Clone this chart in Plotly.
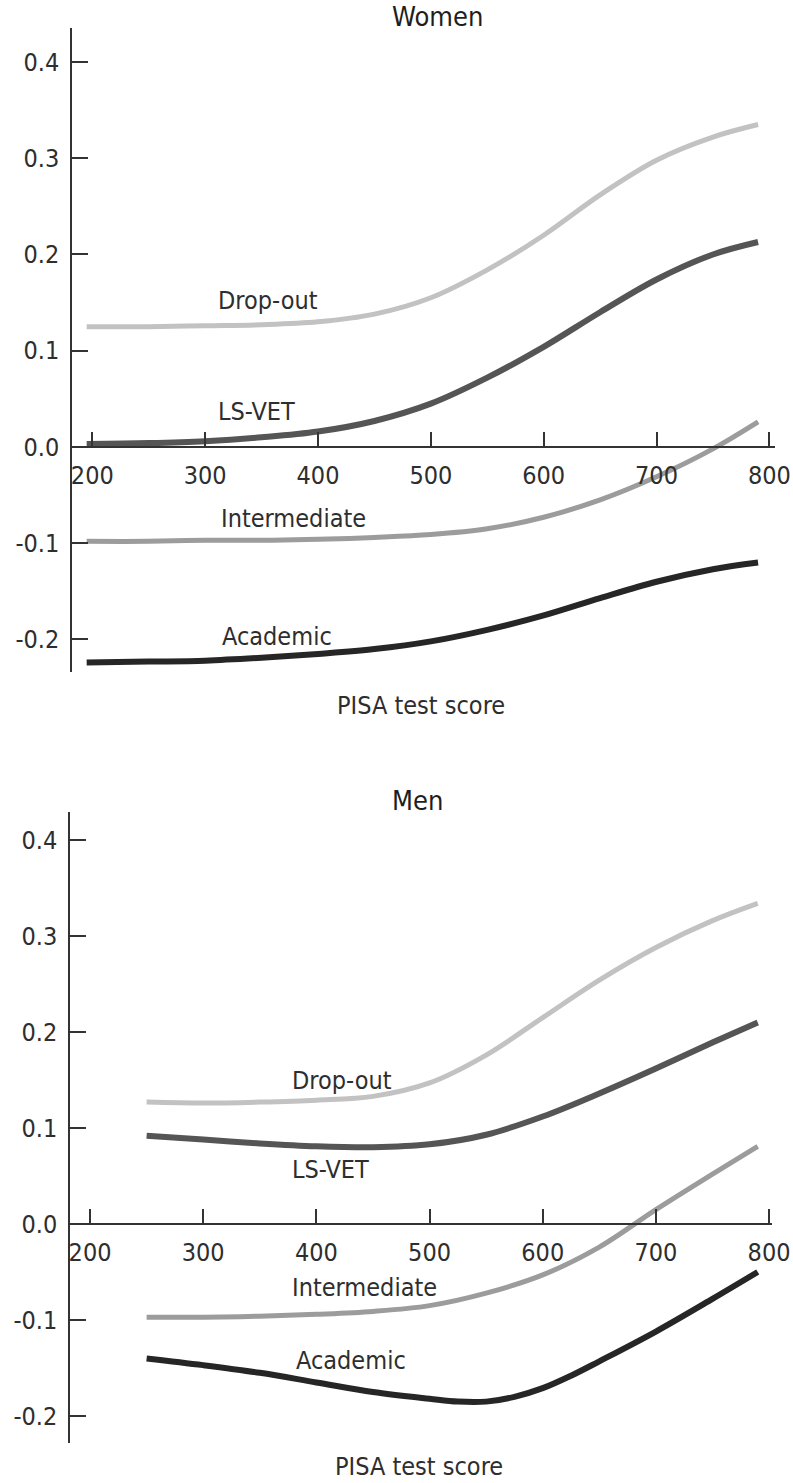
import plotly.graph_objects as go

# ---------------- data ----------------
women_x = [195, 250, 300, 350, 400, 450, 500, 550, 600, 650, 700, 750, 790]
women_dropout = [0.125, 0.125, 0.126, 0.127, 0.130, 0.138, 0.155, 0.184, 0.220, 0.262, 0.298, 0.322, 0.335]
women_lsvet = [0.003, 0.004, 0.006, 0.010, 0.016, 0.027, 0.045, 0.072, 0.104, 0.140, 0.174, 0.200, 0.213]
women_intermediate = [-0.098, -0.098, -0.097, -0.097, -0.096, -0.094, -0.091, -0.085, -0.073, -0.055, -0.031, -0.002, 0.026]
women_academic = [-0.224, -0.223, -0.222, -0.219, -0.215, -0.210, -0.202, -0.190, -0.175, -0.157, -0.140, -0.127, -0.120]

men_x = [250, 300, 350, 400, 450, 500, 550, 600, 650, 700, 750, 790]
men_dropout = [0.127, 0.126, 0.127, 0.129, 0.133, 0.147, 0.176, 0.215, 0.254, 0.288, 0.316, 0.334]
men_lsvet = [0.092, 0.088, 0.084, 0.081, 0.080, 0.083, 0.093, 0.112, 0.136, 0.162, 0.189, 0.210]
men_intermediate = [-0.097, -0.097, -0.096, -0.094, -0.091, -0.085, -0.072, -0.053, -0.024, 0.015, 0.052, 0.081]

men_academic_x = [250, 300, 350, 400, 450, 500, 525, 550, 575, 600, 625, 650, 700, 750, 790]
men_academic = [-0.140, -0.147, -0.155, -0.165, -0.175, -0.182, -0.185, -0.185, -0.180, -0.171, -0.158, -0.143, -0.112, -0.078, -0.050]

x_ticks = [200, 300, 400, 500, 600, 700, 800]
y_ticks = [0.4, 0.3, 0.2, 0.1, 0.0, -0.1, -0.2]
y_tick_labels = ["0.4", "0.3", "0.2", "0.1", "0.0", "-0.1", "-0.2"]
series_names = ["Drop-out", "LS-VET", "Intermediate", "Academic"]
panel_titles = ["Women", "Men"]
x_title = "PISA test score"

# ---------------- style ----------------
W, H = 793, 1483
FONT = "DejaVu Sans Condensed, Liberation Sans Narrow, Open Sans, sans-serif"
TXT = "#2e2e2e"
FS = 25
colors = {"Drop-out": "#c2c2c2", "LS-VET": "#555555", "Intermediate": "#9c9c9c", "Academic": "#262626"}
widths = {"Drop-out": 5, "LS-VET": 6, "Intermediate": 5, "Academic": 6}


def px_x(p):
    return p / W


def px_y(p):
    return 1 - p / H


fig = go.Figure()

women = [(women_x, women_dropout), (women_x, women_lsvet), (women_x, women_intermediate), (women_x, women_academic)]
men = [(men_x, men_dropout), (men_x, men_lsvet), (men_x, men_intermediate), (men_academic_x, men_academic)]

for name, (xs, ys) in zip(series_names, women):
    fig.add_trace(go.Scatter(x=xs, y=ys, mode="lines", xaxis="x", yaxis="y",
                             line=dict(color=colors[name], width=widths[name], shape="spline", smoothing=1.0),
                             showlegend=False, hoverinfo="skip"))
for name, (xs, ys) in zip(series_names, men):
    fig.add_trace(go.Scatter(x=xs, y=ys, mode="lines", xaxis="x2", yaxis="y2",
                             line=dict(color=colors[name], width=widths[name], shape="spline", smoothing=1.0),
                             showlegend=False, hoverinfo="skip"))

axis_common = dict(showgrid=False, zeroline=False, showline=True, linecolor="#333333", linewidth=1.5,
                   ticks="inside", tickcolor="#333333", tickwidth=1.5,
                   tickfont=dict(family=FONT, size=FS, color=TXT))

fig.update_layout(
    width=W, height=H, margin=dict(l=0, r=0, t=0, b=0, autoexpand=False),
    paper_bgcolor="white", plot_bgcolor="white",
    font=dict(family=FONT, color=TXT),
    xaxis=dict(domain=[px_x(72), px_x(775)], range=[182, 805], anchor="free", position=px_y(447),
               tickvals=x_ticks, ticklen=14, ticklabelstandoff=6, **axis_common),
    yaxis=dict(domain=[px_y(672), px_y(28)], range=[-0.2338, 0.4353], anchor="x",
               tickvals=y_ticks, ticktext=y_tick_labels, ticklen=16, ticklabelstandoff=6, **axis_common),
    xaxis2=dict(domain=[px_x(70), px_x(772)], range=[182.3, 802.6], anchor="free", position=px_y(1224),
                tickvals=x_ticks, ticklen=14, ticklabelstandoff=6, **axis_common),
    yaxis2=dict(domain=[px_y(1443), px_y(812)], range=[-0.2281, 0.4292], anchor="x2",
                tickvals=y_ticks, ticktext=y_tick_labels, ticklen=16, ticklabelstandoff=6, **axis_common),
)

ann = []
# panel titles
ann.append(dict(text=panel_titles[0], x=px_x(390), y=px_y(16), xref="paper", yref="paper",
                xanchor="left", yanchor="middle", showarrow=False, font=dict(size=27, color="#1e1e1e")))
ann.append(dict(text=panel_titles[1], x=px_x(390), y=px_y(800), xref="paper", yref="paper",
                xanchor="left", yanchor="middle", showarrow=False, font=dict(size=27, color="#1e1e1e")))
# x titles
ann.append(dict(text=x_title, x=px_x(421), y=px_y(705), xref="paper", yref="paper",
                xanchor="center", yanchor="middle", showarrow=False, font=dict(size=FS, color=TXT)))
ann.append(dict(text=x_title, x=px_x(419), y=px_y(1466), xref="paper", yref="paper",
                xanchor="center", yanchor="middle", showarrow=False, font=dict(size=FS, color=TXT)))
# series labels (data coords)
women_label_pos = [(310, 0.1527), (310, 0.0364), (312, -0.0748), (313, -0.1974)]
men_label_pos = [(377, 0.150), (377, 0.0563), (377, -0.0656), (380, -0.1417)]
for name, (lx, ly) in zip(series_names, women_label_pos):
    ann.append(dict(text=name, x=lx, y=ly, xref="x", yref="y", xanchor="left", yanchor="middle",
                    showarrow=False, font=dict(size=FS, color=TXT)))
for name, (lx, ly) in zip(series_names, men_label_pos):
    ann.append(dict(text=name, x=lx, y=ly, xref="x2", yref="y2", xanchor="left", yanchor="middle",
                    showarrow=False, font=dict(size=FS, color=TXT)))
fig.update_layout(annotations=ann)

fig.write_html("out.html", config={"displayModeBar": False},
               post_script="document.body.style.margin='0px';document.body.style.overflow='hidden';")
